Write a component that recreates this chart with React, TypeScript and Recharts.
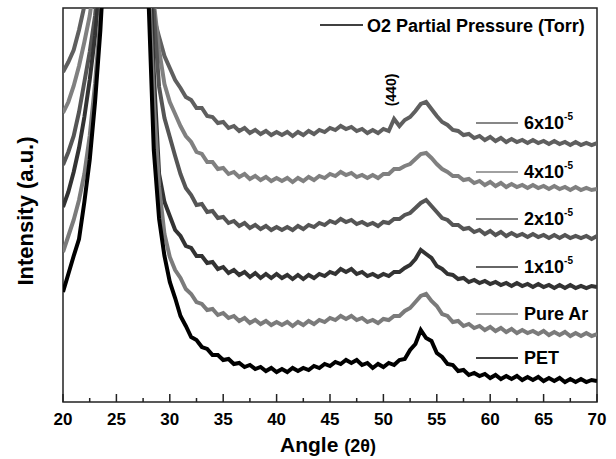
import React from "react";
import { LineChart, Line, XAxis, YAxis, ReferenceArea } from "recharts";

// 2θ angles (degrees)
const angles = [
  20, 20.5, 21, 21.5, 22, 22.5, 23, 23.5, 24, 26,
  28, 28.5, 29, 29.5, 30, 30.5, 31, 31.5, 32, 32.5, 33, 33.5, 34, 34.5, 35, 35.5,
  36, 36.5, 37, 37.5, 38, 38.5, 39, 39.5, 40, 40.5, 41, 41.5, 42, 42.5, 43, 43.5,
  44, 44.5, 45, 45.5, 46, 46.5, 47, 47.5, 48, 48.5, 49, 49.5, 50, 50.5, 51, 51.5,
  52, 52.5, 53, 53.5, 54, 54.5, 55, 55.5, 56, 56.5, 57, 57.5, 58, 58.5, 59, 59.5,
  60, 60.5, 61, 61.5, 62, 62.5, 63, 63.5, 64, 64.5, 65, 65.5, 66, 66.5, 67, 67.5,
  68, 68.5, 69, 69.5, 70,
];

// Intensities (a.u., stacked offsets as plotted)
const pet = [
  110, 128, 146, 163, 200, 242, 300, 372, 470, 1500,
  405, 252, 183, 146, 120, 104, 86, 76, 65, 62, 55, 53, 47, 47, 42, 43,
  38, 39, 35, 37, 33, 35, 31, 34, 30, 33, 30, 34, 31, 34, 32, 36,
  34, 38, 36, 40, 38, 42, 39, 42, 37, 39, 34, 38, 35, 39, 37, 42,
  43, 52, 58, 72, 64, 61, 49, 45, 38, 37, 31, 32, 27, 29, 26, 28,
  24, 27, 23, 26, 23, 26, 22, 25, 22, 25, 21, 24, 21, 24, 20, 23,
  20, 23, 20, 22, 21,
];
const pureAr = [
  150, 166, 182, 202, 228, 266, 318, 385, 470, 1500,
  430, 300, 215, 168, 145, 132, 124, 113, 108, 100, 98, 92, 93, 87, 89, 84,
  86, 81, 84, 79, 82, 78, 81, 77, 80, 77, 80, 76, 80, 77, 81, 78,
  82, 80, 84, 82, 86, 83, 86, 82, 84, 80, 82, 79, 83, 82, 86, 86,
  91, 94, 100, 106, 108, 101, 96, 88, 86, 80, 81, 76, 78, 74, 76, 72,
  75, 71, 74, 70, 73, 69, 72, 69, 71, 68, 71, 67, 70, 67, 70, 66,
  69, 66, 69, 66, 68,
];
const o2_1e5 = [
  195, 210, 230, 254, 285, 322, 366, 425, 520, 1500,
  480, 330, 228, 200, 186, 172, 166, 156, 154, 146, 146, 139, 140, 133, 135, 129,
  132, 127, 130, 125, 129, 124, 128, 124, 128, 124, 127, 123, 127, 123, 127, 124,
  128, 126, 130, 128, 133, 130, 133, 128, 130, 126, 128, 125, 128, 126, 130, 130,
  134, 137, 143, 152, 148, 144, 136, 133, 128, 127, 123, 124, 120, 122, 119, 121,
  118, 120, 117, 119, 116, 119, 116, 118, 115, 118, 115, 117, 114, 117, 114, 117,
  114, 116, 114, 116, 115,
];
const o2_2e5 = [
  237, 250, 266, 290, 320, 350, 386, 440, 540, 1500,
  500, 390, 315, 284, 265, 246, 228, 214, 207, 197, 198, 190, 191, 184, 185, 179,
  181, 176, 179, 174, 177, 173, 176, 172, 175, 172, 175, 172, 176, 173, 177, 175,
  179, 177, 181, 179, 183, 180, 182, 178, 180, 177, 179, 176, 180, 179, 183, 183,
  187, 189, 194, 199, 202, 196, 190, 184, 182, 177, 177, 173, 174, 170, 172, 168,
  171, 167, 170, 166, 169, 166, 168, 165, 168, 165, 167, 164, 167, 164, 167, 164,
  166, 164, 166, 163, 166,
];
const o2_4e5 = [
  289, 300, 316, 336, 360, 386, 425, 500, 600, 1500,
  520, 400, 352, 318, 300, 288, 276, 266, 260, 250, 248, 240, 240, 233, 234, 228,
  230, 225, 228, 223, 226, 222, 225, 221, 224, 221, 224, 220, 224, 221, 225, 222,
  226, 224, 228, 226, 230, 227, 229, 225, 227, 224, 227, 224, 228, 228, 233, 233,
  236, 238, 243, 248, 249, 244, 238, 233, 230, 226, 226, 222, 223, 219, 221, 217,
  220, 216, 219, 215, 218, 215, 217, 214, 217, 214, 216, 213, 216, 213, 215, 212,
  215, 212, 214, 212, 213,
];
const o2_6e5 = [
  330, 340, 352, 372, 396, 430, 480, 560, 650, 1500,
  420, 385, 365, 346, 334, 322, 314, 305, 302, 294, 294, 286, 285, 279, 280, 274,
  276, 271, 274, 269, 272, 268, 271, 267, 270, 267, 270, 266, 270, 267, 271, 268,
  272, 270, 274, 272, 276, 273, 275, 271, 273, 269, 272, 269, 273, 271, 283, 276,
  282, 285, 291, 298, 300, 293, 286, 280, 277, 272, 271, 267, 268, 264, 266, 262,
  265, 261, 264, 260, 263, 260, 262, 259, 262, 259, 261, 258, 261, 258, 260, 257,
  260, 257, 259, 257, 259,
];

const majorTicks = [20, 25, 30, 35, 40, 45, 50, 55, 60, 65, 70];
const minorTicks = [22.5, 27.5, 32.5, 37.5, 42.5, 47.5, 52.5, 57.5, 62.5, 67.5];

const seriesKeys = ["o2_6e5", "o2_4e5", "o2_2e5", "o2_1e5", "pureAr", "pet"];
const seriesColors = ["#5f5f5f", "#808080", "#555555", "#333333", "#7b7b7b", "#000000"];
const seriesLabels = ["6x10", "4x10", "2x10", "1x10", "Pure Ar", "PET"];
const seriesSup = ["-5", "-5", "-5", "-5", "", ""];
const labelLineY = [123, 172, 219, 267, 314, 358];

const legendTitle = "O2 Partial Pressure (Torr)";
const peakLabel = "(440)";
const xTitle = "Angle ";
const xTitleUnit = "(2θ)";
const yTitle = "Intensity (a.u.)";

const data = angles.map((a, i) => ({
  angle: a,
  pet: pet[i],
  pureAr: pureAr[i],
  o2_1e5: o2_1e5[i],
  o2_2e5: o2_2e5[i],
  o2_4e5: o2_4e5[i],
  o2_6e5: o2_6e5[i],
}));

const FONT = "'Liberation Sans', Arial, sans-serif";

const AxisTick = (props: any) => {
  const { x, y, payload } = props;
  const v = payload.value;
  const major = majorTicks.includes(v);
  return (
    <g>
      <line x1={x} x2={x} y1={y} y2={y - (major ? 8 : 4)} stroke="#222" strokeWidth={1.5} />
      {major && (
        <text x={x} y={y + 23} textAnchor="middle" fontFamily={FONT} fontWeight="bold" fontSize={17} fill="#000">
          {v}
        </text>
      )}
    </g>
  );
};

export default function App() {
  const allTicks = [...majorTicks, ...minorTicks].sort((a, b) => a - b);
  return (
    <div style={{ position: "absolute", left: 0, top: 0, width: 616, height: 459, overflow: "hidden", background: "#fff" }}>
      <LineChart width={616} height={459} data={data} margin={{ top: 8, right: 19, left: 63, bottom: 0 }}>
        <XAxis
          dataKey="angle"
          type="number"
          domain={[20, 70]}
          allowDataOverflow
          ticks={allTicks}
          interval={0}
          tick={<AxisTick />}
          tickLine={false}
          axisLine={false}
          tickSize={0}
          tickMargin={0}
          height={57}
        />
        <YAxis type="number" domain={[0, 394]} allowDataOverflow hide />
        {seriesKeys.map((k, i) => (
          <Line
            key={k}
            dataKey={k}
            type="linear"
            stroke={seriesColors[i]}
            strokeWidth={4}
            dot={false}
            isAnimationActive={false}
          />
        ))}
        <ReferenceArea x1={20} x2={70} y1={0} y2={394} fill="none" stroke="#222" strokeWidth={1.5} fillOpacity={0} />
      </LineChart>
      <svg width={616} height={459} style={{ position: "absolute", left: 0, top: 0, pointerEvents: "none" }}>
        <line x1={320} x2={363} y1={25} y2={25} stroke="#000" strokeWidth={1.5} />
        <text x={367} y={31.5} fontFamily={FONT} fontWeight="bold" fontSize={18} fill="#000">
          {legendTitle}
        </text>
        {seriesLabels.map((lab, i) => (
          <g key={lab + i}>
            <line x1={476} x2={518} y1={labelLineY[i]} y2={labelLineY[i]} stroke={seriesColors[i]} strokeWidth={1.5} />
            <text x={524} y={labelLineY[i] + 6} fontFamily={FONT} fontWeight="bold" fontSize={18} fill="#000">
              {lab}
              {seriesSup[i] && (
                <tspan fontSize={10} dy={-9}>
                  {seriesSup[i]}
                </tspan>
              )}
            </text>
          </g>
        ))}
        <text
          transform="translate(396, 90) rotate(-90)"
          textAnchor="middle"
          fontFamily={FONT}
          fontWeight="bold"
          fontSize={14}
          fill="#000"
        >
          {peakLabel}
        </text>
        <text x={280} y={452} fontFamily={FONT} fontWeight="bold" fontSize={21} fill="#000">
          {xTitle}
          <tspan fontSize={18}>{xTitleUnit}</tspan>
        </text>
        <text
          transform="translate(33, 211) rotate(-90)"
          textAnchor="middle"
          fontFamily={FONT}
          fontWeight="bold"
          fontSize={22}
          fill="#000"
        >
          {yTitle}
        </text>
      </svg>
    </div>
  );
}
